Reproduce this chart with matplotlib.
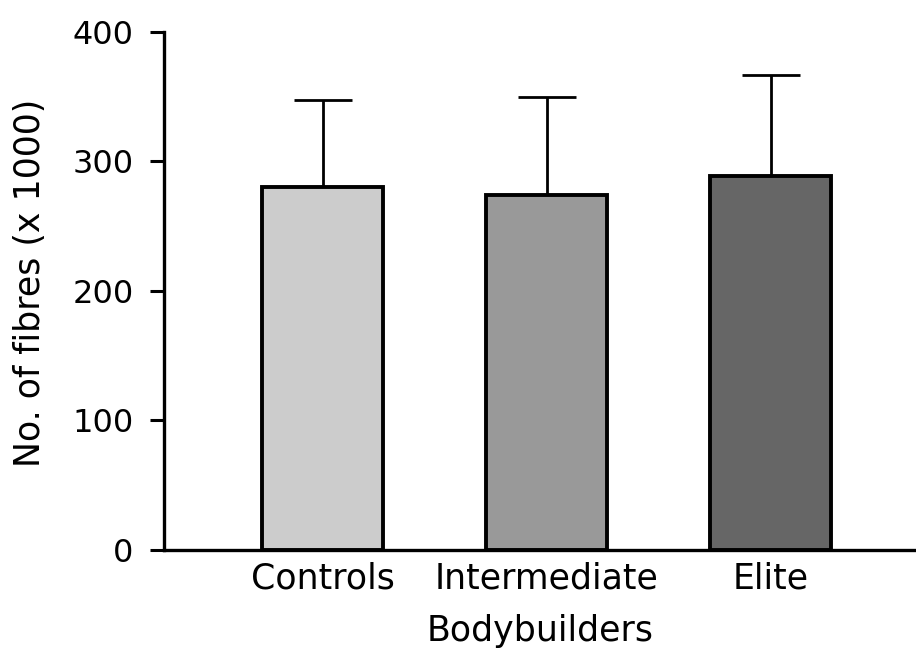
import numpy as np
import matplotlib.pyplot as plt

groups = ['Controls', 'Intermediate', 'Elite']
means = [280, 274, 289]
errs = [67, 76, 78]
colors = ['#cccccc', '#999999', '#666666']

plt.rcParams['font.family'] = ['DejaVu Sans']

fig = plt.figure(figsize=(9.16, 6.5), dpi=100)
ax = fig.add_axes([0.179, 0.154, 0.821, 0.797])

x = np.arange(len(groups))
ax.bar(x, means, width=0.54, color=colors, edgecolor='black', linewidth=2.8, zorder=2)
ax.errorbar(x, means, yerr=[np.zeros(len(errs)), errs], fmt='none', ecolor='black',
            elinewidth=2, capsize=21, capthick=2, zorder=1)

ax.set_xlim(-0.71, 2.65)
ax.set_ylim(0, 400)
ax.set_yticks([0, 100, 200, 300, 400])
ax.set_xticks(x)
ax.set_xticklabels(groups)
ax.tick_params(axis='x', length=0, labelsize=25, pad=8)
ax.tick_params(axis='y', length=10, width=2.2, labelsize=23, pad=12)
ax.set_ylabel('No. of fibres (x 1000)', fontsize=25)
ax.yaxis.set_label_coords(-0.155, 0.515)
ax.set_xlabel('Bodybuilders', fontsize=25, labelpad=14)

for s in ['top', 'right']:
    ax.spines[s].set_visible(False)
for s in ['left', 'bottom']:
    ax.spines[s].set_linewidth(2.4)

fig.savefig('out.png', dpi=100)
